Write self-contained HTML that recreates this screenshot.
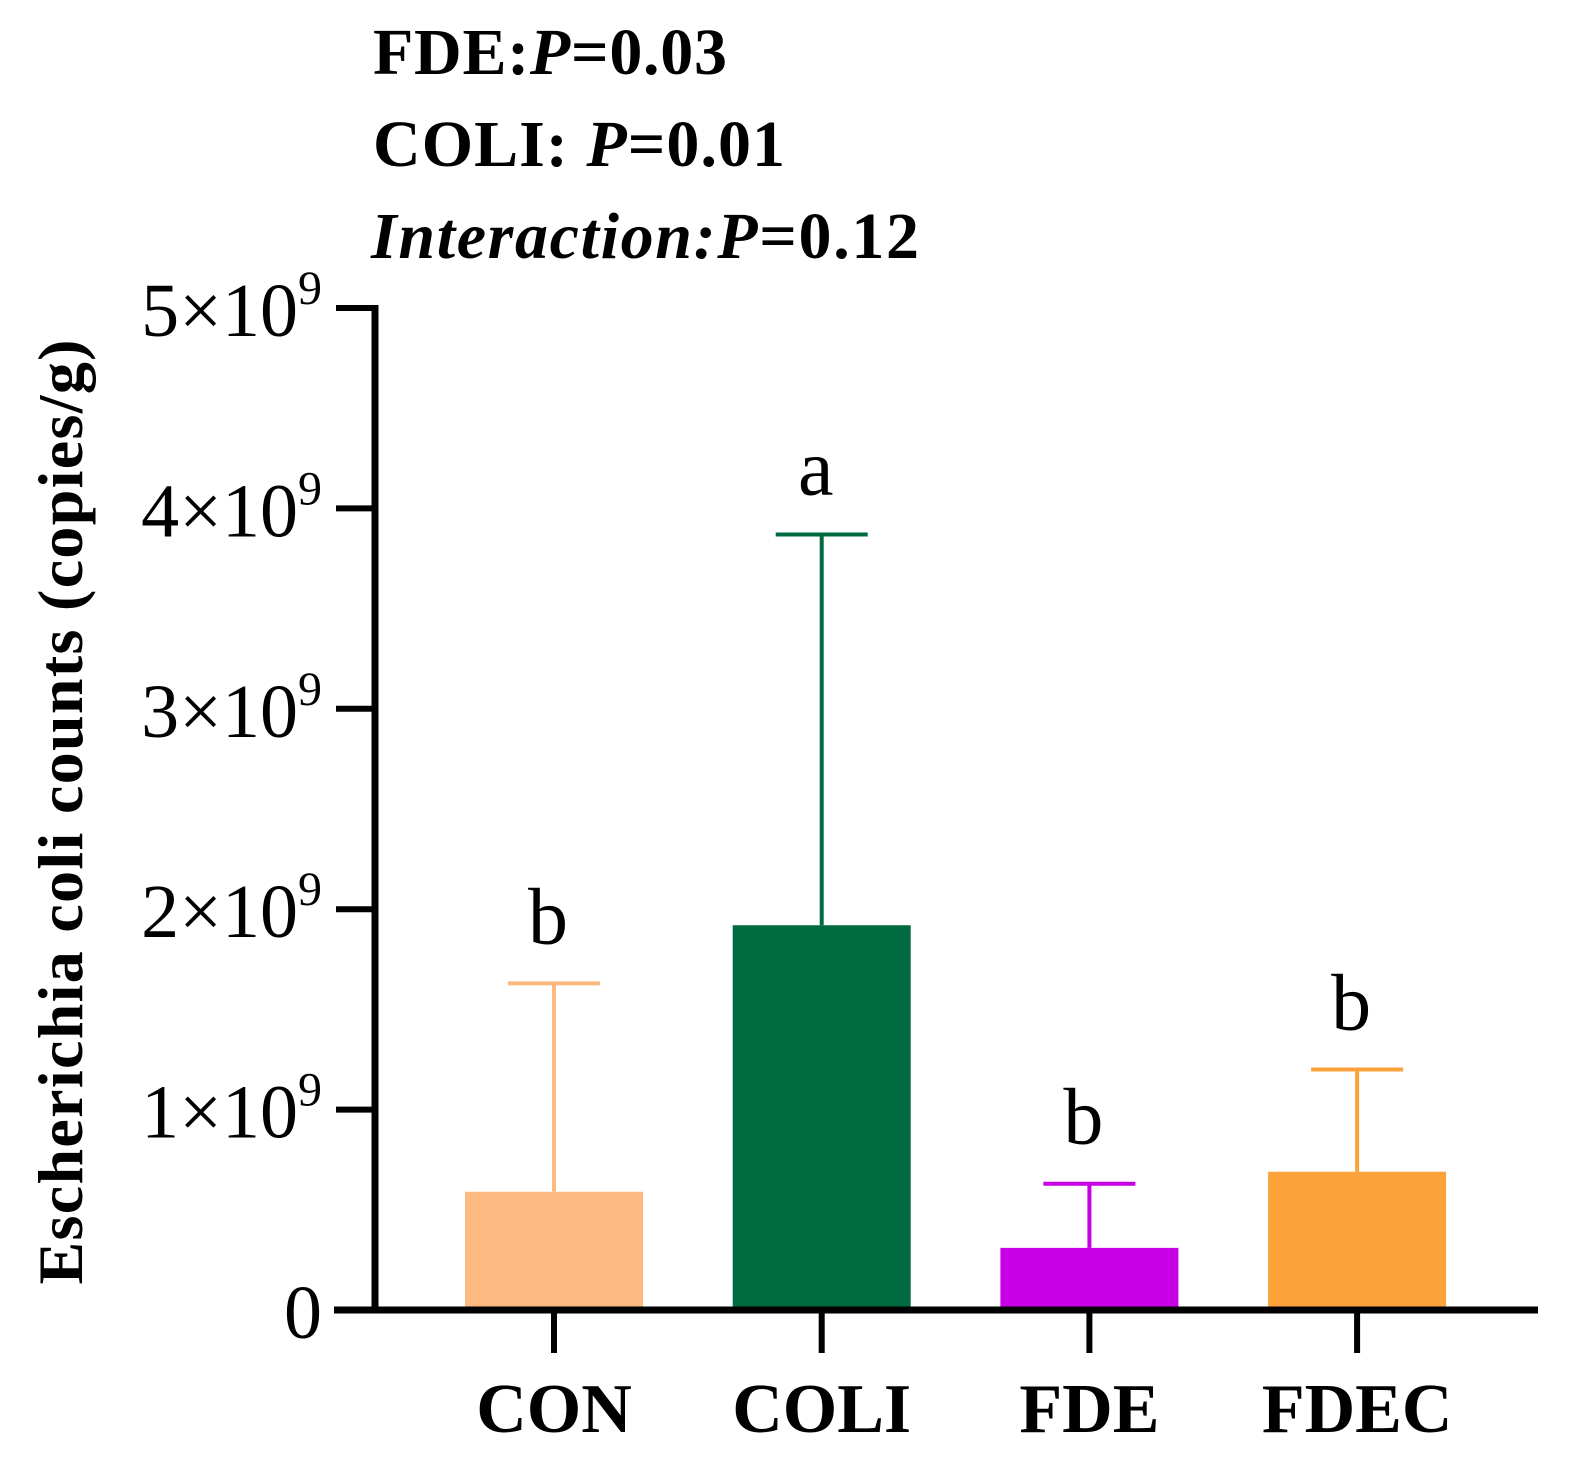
<!DOCTYPE html>
<html><head><meta charset="utf-8"><style>
html,body{margin:0;padding:0;background:#fff;}
svg{display:block;font-family:"Liberation Serif",serif;}
</style></head><body>
<svg id="chart" width="1582" height="1478" viewBox="0 0 1582 1478">
<g font-weight="bold" font-size="66">
<text x="373" y="74" textLength="354">FDE:<tspan font-style="italic">P</tspan>=0.03</text>
<text x="373" y="166" textLength="412">COLI: <tspan font-style="italic">P</tspan>=0.01</text>
<text x="371" y="258" textLength="548"><tspan font-style="italic">Interaction:P</tspan>=0.12</text>
</g>
<text transform="translate(82,812) rotate(-90)" text-anchor="middle" font-size="64" font-weight="bold" textLength="945">Escherichia coli counts (copies/g)</text>
<g id="bars"></g>
<g id="axes"></g>
</svg>
<script>
const categories = ["CON","COLI","FDE","FDEC"];
const means = [0.59e9, 1.92e9, 0.31e9, 0.69e9];
const errors = [1.04e9, 1.95e9, 0.32e9, 0.51e9];
const letters = ["b","a","b","b"];
const colors = ["#FDBA80","#006B40","#C800E6","#FBA23A"];
const yTicks = [0,1e9,2e9,3e9,4e9,5e9];
const yTickLabels = ["0","1","2","3","4","5"];

const NS="http://www.w3.org/2000/svg";
const y0=1310, y1=308, yMax=5e9;
const y=v=>y0-(v/yMax)*(y0-y1);
const x=i=>554+i*267.7;
const bw=178;
function mk(t,a,p){const e=document.createElementNS(NS,t);for(const k in a)e.setAttribute(k,a[k]);p.appendChild(e);return e;}
const bars=document.getElementById('bars'), axes=document.getElementById('axes');
categories.forEach((c,i)=>{
  const cx=x(i), top=y(means[i]), et=y(means[i]+errors[i]);
  const eb=mk('line',{x1:cx,x2:cx,y1:top,y2:et,stroke:colors[i],'stroke-width':4},bars);
  
  
  const cap=mk('line',{x1:cx-46,x2:cx+46,y1:et,y2:et,stroke:colors[i],'stroke-width':4},bars);
  
  
  const r=mk('rect',{x:cx-bw/2,y:top,width:bw,height:y0-top,fill:colors[i]},bars);
  
  
  const l=mk('text',{x:cx-6,y:et-40,'text-anchor':'middle','font-size':80},bars);
  l.textContent=letters[i];
  
  
  const tk=mk('line',{x1:cx,x2:cx,y1:y0,y2:1353,stroke:'#000','stroke-width':6},axes);
  
  
  const xl=mk('text',{x:cx,y:1432,'text-anchor':'middle','font-size':70,'font-weight':'bold'},axes);
  xl.textContent=c;
  
  
});
yTicks.forEach((v,i)=>{
  const yy=y(v);
  const t=mk('line',{x1:336,x2:378,y1:yy,y2:yy,stroke:'#000','stroke-width':6},axes);
  
  
  const tx=mk('text',{x:322,y:yy+28,'text-anchor':'end','font-size':76},axes);
  if(v===0){tx.textContent="0";}
  else{tx.innerHTML=yTickLabels[i]+"×10<tspan font-size='48' dy='-32'>9</tspan>";}
  
  
});
const ya=mk('line',{x1:375,x2:375,y1:y1-3,y2:y0+3,stroke:'#000','stroke-width':7},axes);


const xa=mk('line',{x1:334,x2:1538,y1:y0,y2:y0,stroke:'#000','stroke-width':7},axes);


</script>
</body></html>
